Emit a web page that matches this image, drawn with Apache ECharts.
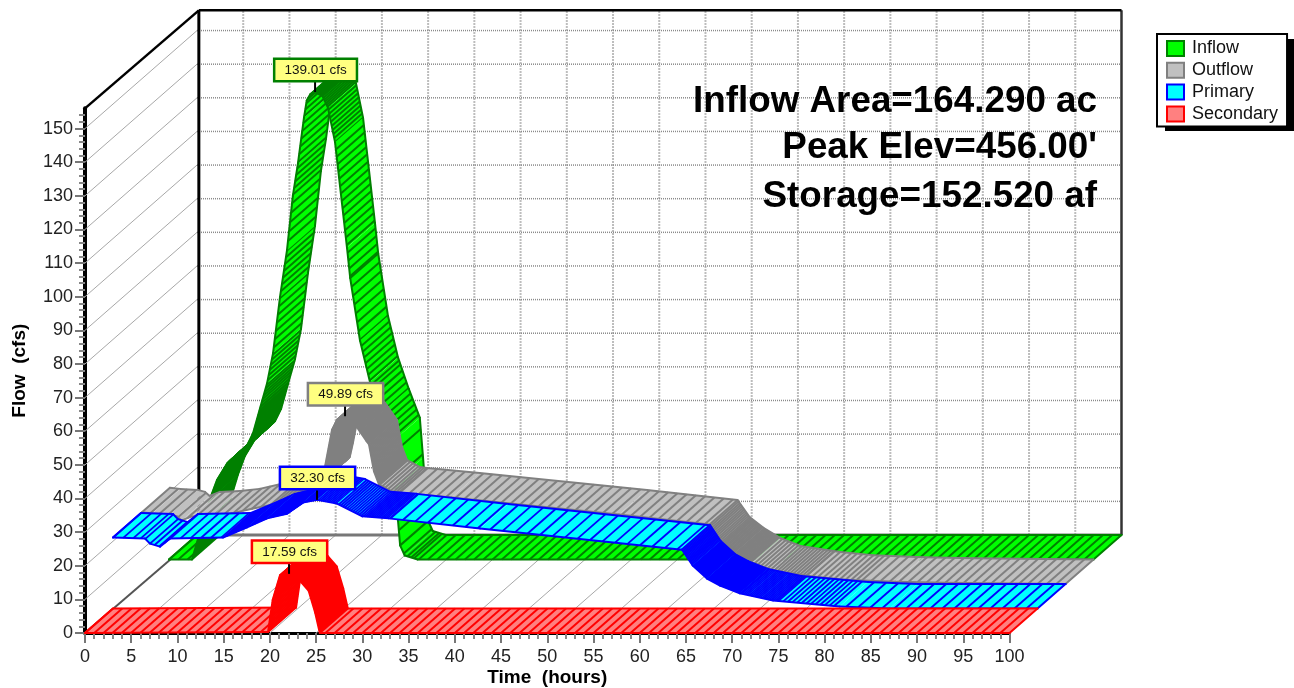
<!DOCTYPE html>
<html><head><meta charset="utf-8">
<style>html,body{margin:0;padding:0;background:#fff}#c{width:1294px;height:688px}</style>
<script src="https://cdn.jsdelivr.net/npm/echarts@6/dist/echarts.min.js"></script>
</head><body><div id="c"></div>
<script>
// ---- tick labels ----
const xTicks = [0,5,10,15,20,25,30,35,40,45,50,55,60,65,70,75,80,85,90,95,100];
const yTicks = [0,10,20,30,40,50,60,70,80,90,100,110,120,130,140,150];
const yMinorTicks = [2,4,6,8,12,14,16,18,22,24,26,28,32,34,36,38,42,44,46,48,52,54,56,58,62,64,66,68,72,74,76,78,82,84,86,88,92,94,96,98,102,104,106,108,112,114,116,118,122,124,126,128,132,134,136,138,142,144,146,148,152,154];
// ---- series ----
const inflowT = [0,2.49,3.4,4.43,5.19,6.27,8.44,9.09,9.84,10.6,11.25,12,12.76,13.4,13.95,14.6,14.9,15.3,15.8,16.6,17.2,17.96,19.25,19.6,20.66,21.74,22.9,24.1,24.45,24.77,25,25.5,26.9,100];
const inflowV = [0,0,8.6,18,23.6,28.5,33.9,37.5,44.9,52.3,61.3,77.9,91.9,108.2,117.8,131.4,136.5,138.4,139.01,137.8,134.3,124.1,92.8,83.7,65.1,52.8,43.5,34.9,23,11.6,4.2,1.2,0,0];
const outflowT = [0.1,1.2,3.1,3.9,4.4,5.5,7.7,9.8,12,14,16,18,19.55,19.9,20.66,21.2,22.07,22.8,23.36,23.69,24.4,24.66,25.2,25.74,27.15,27.9,33.6,51.7,61.5,62.8,64.3,66.1,68.3,72.6,76.1,81.6,87,100];
const outflowV = [21.3,21,20.7,20.1,18.9,20.1,20.4,21,22.4,23.5,25,27,30.5,34.8,45.8,48.8,49.89,48.6,46.6,45.3,42.5,41.5,33.5,29.6,27.5,27.2,25.7,20.7,17.7,12.6,9.4,6.4,4,2.2,1.3,0.7,0.4,0];
const primaryT = [0,3.46,4,5.08,6.17,11.9,14.5,16.66,18.82,20.55,22.07,24.23,26.97,29.8,39.7,61.55,62.7,64.25,65.66,67.8,71.4,78.6,84,100];
const primaryV = [21.1,20.8,19.3,18.4,20.8,21.1,24.1,26.8,28.2,31.5,32.3,31.2,27.4,26.8,23.8,17.5,12.8,8.9,6.8,4.5,2.4,0.6,0,0];
const secondaryT = [0,19.8,20.3,21.1,22.07,23.26,24.2,24.9,25.4,100];
const secondaryV = [0,0.3,9.8,17.2,17.59,15.5,12.5,6,0,0];
// ---- peak callouts ----
const peakNames = ['Inflow','Outflow','Primary','Secondary'];
const peakT = [15.8,22.07,22.07,22.07];
const peakV = [139.01,49.89,32.30,17.59];
// ---- annotation ----
const infoLines = ['Inflow Area=164.290 ac','Peak Elev=456.00\'','Storage=152.520 af'];

const FONT = '"Liberation Sans", Arial, sans-serif';
const xMax = 100, yMax = 156;
const dT = 112/9.245, dV = 98/3.363;   // depth of the pseudo-3D box, in axis units
const laneZ = {Inflow:0.75, Outflow:0.5, Primary:0.25, Secondary:0};
const laneW = 0.25;
const styleOf = {
  Inflow:{fill:'#00FF00',stroke:'#008000',hw:2,hatch:[[2.5,9.9,0.06],[9.9,15.8,0.11],[15.8,19.6,0.09],[19.6,22,0.15],[22,25,0.22],[25,26.5,0.4]]},
  Outflow:{fill:'#C0C0C0',stroke:'#808080',hw:2,hatch:[[14,19,0.5],[19,25.8,0.03],[25.8,28,0.3],[61.5,66,0.12],[66,72,0.35],[72,78,0.6]]},
  Primary:{fill:'#00FFFF',stroke:'#0000FF',hw:1.8,hatch:[[0,3,1.1],[3,6.2,0.5],[6.2,12,1.1],[12,16,0.3],[16,22,0.13],[22,30,0.22],[30,61.5,1.35],[61.5,68,0.07],[68,72,0.2],[72,78,0.5],[78,100,1.3]]},
  Secondary:{fill:'#FF8080',stroke:'#FF0000',hw:2,hatch:[[19.8,25.4,0.03]]}
};
function hatchTimes(ranges){
  const out=[]; let t=0;
  while(t<=100.0001){
    const r=ranges.find(r=>t>=r[0]-1e-6&&t<r[1]-1e-6);
    out.push(t);
    if(r) t=Math.min(t+r[2],r[1]);
    else { const nx=Math.floor(t+1e-6)+1; const rr=ranges.find(r=>r[0]>t&&r[0]<nx); t=rr?rr[0]:nx; }
  }
  return out;
}
function ribbon(name,T,V){
  const s=styleOf[name], z0=laneZ[name], z1=z0+laneW, H=hatchTimes(s.hatch);
  return {
    type:'custom',name,coordinateSystem:'cartesian2d',clip:false,silent:true,
    itemStyle:{color:s.fill,borderColor:s.stroke,borderWidth:2},
    encode:{x:0,y:1},
    data:T.map((t,i)=>[t,V[i]]),
    renderItem(params,api){
      const i=params.dataIndex;
      if(i>=T.length-1) return null;
      const P=(t,v,z)=>api.coord([t+z*dT,v+z*dV]);
      const t0=T[i],t1=T[i+1],v0=V[i],v1=V[i+1];
      const a=P(t0,v0,z0),b=P(t1,v1,z0),c=P(t1,v1,z1),d=P(t0,v0,z1);
      const kids=[{type:'polygon',shape:{points:[a,b,c,d]},style:{fill:s.fill}}];
      H.forEach(h=>{
        if(h>=t0&&h<t1){
          const v=v0+(v1-v0)*(h-t0)/(t1-t0),p=P(h,v,z0),q=P(h,v,z1);
          kids.push({type:'line',shape:{x1:p[0],y1:p[1],x2:q[0],y2:q[1]},style:{stroke:s.stroke,lineWidth:s.hw}});
        }
      });
      const line=(p,q)=>({type:'line',shape:{x1:p[0],y1:p[1],x2:q[0],y2:q[1]},style:{stroke:s.stroke,lineWidth:2,lineCap:'round'}});
      kids.push(line(a,b),line(d,c));
      if(i===0) kids.push(line(a,d));
      if(i===T.length-2) kids.push(line(b,c));
      return {type:'group',children:kids};
    }
  };
}
// box walls and floor, all from the axis scales
const wallItems=[];
xTicks.forEach(t=>wallItems.push(['x',t]));
yTicks.forEach(v=>wallItems.push(['y',v]));
wallItems.push(['frame',0]);
const wallSeries={
  type:'custom',coordinateSystem:'cartesian2d',clip:false,silent:true,
  data:wallItems.map((w,i)=>[i,0]),encode:{x:0,y:1},
  renderItem(params,api){
    const w=wallItems[params.dataIndex],C=(t,v)=>api.coord([t,v]);
    const L=(p,q,stroke,lineWidth,lineDash)=>({type:'line',shape:{x1:p[0],y1:p[1],x2:q[0],y2:q[1]},style:{stroke,lineWidth,lineDash}});
    let kids=[];
    if(w[0]==='x'){
      const t=w[1];
      if(t>0&&t<100) kids.push(L(C(t+dT,dV),C(t+dT,yMax+dV),'#BDBDBD',2,[2,1]));
      if(t>0) kids.push(L(C(t,0),C(t+dT,dV),'#A8A8A8',1));
    }else if(w[0]==='y'){
      const v=w[1];
      if(v>0) kids.push(L(C(dT,v+dV),C(100+dT,v+dV),'#8A8A8A',1.5,[1,1]));
      if(v>0) kids.push(L(C(0,v),C(dT,v+dV),'#A8A8A8',1));
    }else{
      const l=dT+0.2;
      kids=[
        L(C(0,0),C(l,dV),'#555555',2),
        L(C(l,dV),C(100+dT,dV),'#777777',3),
        L(C(100+dT,dV),C(100+dT,yMax+dV),'#333333',2.5),
        L(C(l,dV),C(l,yMax+dV),'#000000',3),
        L(C(l,yMax+dV),C(100+dT,yMax+dV),'#000000',2.5),
        L(C(0,yMax),C(l,yMax+dV),'#000000',2.5)
      ];
    }
    return {type:'group',children:kids};
  }
};
const calloutSeries={
  type:'custom',coordinateSystem:'cartesian2d',clip:false,silent:true,z:20,
  data:peakT.map((t,i)=>[t,peakV[i]]),encode:{x:0,y:1},
  renderItem(params,api){
    const i=params.dataIndex,n=peakNames[i],p=api.coord([peakT[i]+laneZ[n]*dT,peakV[i]+laneZ[n]*dV]);
    const yTop=p[1]-12;
    return {type:'group',children:[
      {type:'line',shape:{x1:p[0],y1:p[1],x2:p[0],y2:yTop},style:{stroke:'#000',lineWidth:2}},
      {type:'text',style:{text:peakV[i].toFixed(2)+' cfs',x:p[0]+0.5,y:yTop,align:'center',verticalAlign:'bottom',
        fill:'#111',fontFamily:FONT,fontSize:13.5,backgroundColor:'#FFFF80',borderColor:styleOf[n].stroke,borderWidth:2.5,padding:[3,9,3,9]}}
    ]};
  }
};
const infoStyle={align:'right',verticalAlign:'middle',fill:'#000',fontFamily:FONT,fontWeight:'bold',fontSize:36.8};
const chart=echarts.init(document.getElementById('c'),null,{renderer:'canvas'});
chart.setOption({
  animation:false,
  backgroundColor:'#fff',
  textStyle:{fontFamily:FONT},
  grid:{left:85,right:1294-1009.5,top:633-yMax*3.363,height:yMax*3.363,containLabel:false,outerBoundsMode:'none'},
  xAxis:{type:'value',min:0,max:xMax,interval:5,
    name:'Time  (hours)',nameLocation:'middle',nameGap:35,nameMoveOverlap:false,
    nameTextStyle:{fontFamily:FONT,fontWeight:'bold',fontSize:19,color:'#000'},
    axisLine:{show:true,onZero:false,lineStyle:{color:'#000',width:3}},
    axisTick:{show:true,length:10,lineStyle:{color:'#777',width:2}},
    minorTick:{show:true,splitNumber:5,length:6,lineStyle:{color:'#888',width:2}},
    axisLabel:{fontFamily:FONT,fontSize:18,color:'#222',margin:15,hideOverlap:false},
    splitLine:{show:false},minorSplitLine:{show:false}},
  yAxis:[{type:'value',min:0,max:yMax,interval:10,
    name:'Flow  (cfs)',nameLocation:'middle',nameGap:56,
    nameTextStyle:{fontFamily:FONT,fontWeight:'bold',fontSize:19,color:'#000'},
    axisLine:{show:true,onZero:false,lineStyle:{color:'#000',width:4}},
    axisTick:{show:true,length:10,customValues:yTicks,lineStyle:{color:'#777',width:2}},
    axisLabel:{fontFamily:FONT,fontSize:18,color:'#222',margin:12,customValues:yTicks},
    splitLine:{show:false}},
   {type:'value',min:0,max:yMax,position:'left',
    axisLine:{show:false},
    axisTick:{show:true,length:6,customValues:yMinorTicks,lineStyle:{color:'#888',width:2}},
    axisLabel:{show:false},splitLine:{show:false}}],
  legend:{left:1157,top:34,orient:'vertical',icon:'rect',itemWidth:17,itemHeight:15,itemGap:3.8,z:6,
    padding:[5.5,9,3.5,9],backgroundColor:'#fff',borderColor:'#000',borderWidth:2,
    selectedMode:false,data:['Inflow','Outflow','Primary','Secondary'],
    textStyle:{fontFamily:FONT,fontSize:18,color:'#111',padding:[0,0,0,3]}},
  graphic:[
    {type:'rect',z:1,silent:true,shape:{x:1165,y:39,width:131,height:92},style:{fill:'#000'}},
    {type:'text',z:50,x:555,y:1,silent:true,style:{text:'Hydrograph',align:'center',verticalAlign:'bottom',fill:'#0000FF',fontFamily:FONT,fontWeight:'bold',fontSize:21}},
    {type:'text',z:50,x:1097,y:102,silent:true,style:Object.assign({text:infoLines[0]},infoStyle)},
    {type:'text',z:50,x:1097,y:148,silent:true,style:Object.assign({text:infoLines[1]},infoStyle)},
    {type:'text',z:50,x:1097,y:197,silent:true,style:Object.assign({text:infoLines[2]},infoStyle)}
  ],
  series:[
    wallSeries,
    ribbon('Inflow',inflowT,inflowV),
    ribbon('Outflow',outflowT,outflowV),
    ribbon('Primary',primaryT,primaryV),
    ribbon('Secondary',secondaryT,secondaryV),
    calloutSeries
  ]
});
</script></body></html>
